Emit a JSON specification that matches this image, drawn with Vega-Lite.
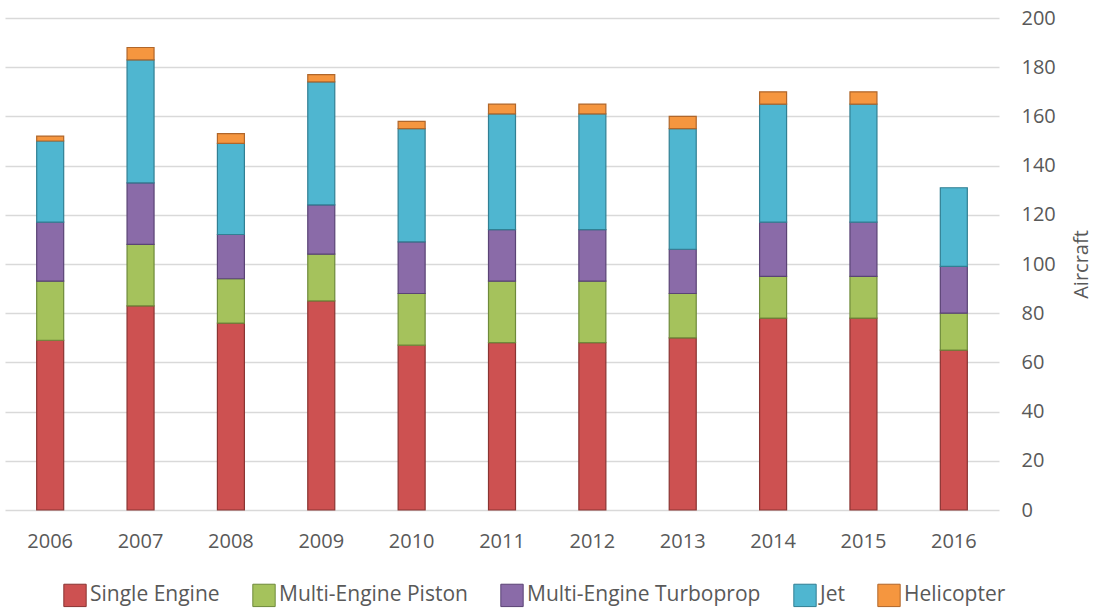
{
  "$schema": "https://vega.github.io/schema/vega-lite/v6.json",
  "width": 994,
  "height": 492,
  "padding": {"left": 5, "top": 8, "right": 0, "bottom": 0},
  "background": "white",
  "config": {
    "view": {"stroke": null},
    "font": "Open Sans",
    "axis": {"labelFont": "Open Sans", "titleFont": "Open Sans", "labelColor": "#595959", "titleColor": "#595959"}
  },
  "data": {
    "values": [
      {"year": "2006", "type": "Single Engine", "k": 1, "v": 69},
      {"year": "2006", "type": "Multi-Engine Piston", "k": 2, "v": 24},
      {"year": "2006", "type": "Multi-Engine Turboprop", "k": 3, "v": 24},
      {"year": "2006", "type": "Jet", "k": 4, "v": 33},
      {"year": "2006", "type": "Helicopter", "k": 5, "v": 2},
      {"year": "2007", "type": "Single Engine", "k": 1, "v": 83},
      {"year": "2007", "type": "Multi-Engine Piston", "k": 2, "v": 25},
      {"year": "2007", "type": "Multi-Engine Turboprop", "k": 3, "v": 25},
      {"year": "2007", "type": "Jet", "k": 4, "v": 50},
      {"year": "2007", "type": "Helicopter", "k": 5, "v": 5},
      {"year": "2008", "type": "Single Engine", "k": 1, "v": 76},
      {"year": "2008", "type": "Multi-Engine Piston", "k": 2, "v": 18},
      {"year": "2008", "type": "Multi-Engine Turboprop", "k": 3, "v": 18},
      {"year": "2008", "type": "Jet", "k": 4, "v": 37},
      {"year": "2008", "type": "Helicopter", "k": 5, "v": 4},
      {"year": "2009", "type": "Single Engine", "k": 1, "v": 85},
      {"year": "2009", "type": "Multi-Engine Piston", "k": 2, "v": 19},
      {"year": "2009", "type": "Multi-Engine Turboprop", "k": 3, "v": 20},
      {"year": "2009", "type": "Jet", "k": 4, "v": 50},
      {"year": "2009", "type": "Helicopter", "k": 5, "v": 3},
      {"year": "2010", "type": "Single Engine", "k": 1, "v": 67},
      {"year": "2010", "type": "Multi-Engine Piston", "k": 2, "v": 21},
      {"year": "2010", "type": "Multi-Engine Turboprop", "k": 3, "v": 21},
      {"year": "2010", "type": "Jet", "k": 4, "v": 46},
      {"year": "2010", "type": "Helicopter", "k": 5, "v": 3},
      {"year": "2011", "type": "Single Engine", "k": 1, "v": 68},
      {"year": "2011", "type": "Multi-Engine Piston", "k": 2, "v": 25},
      {"year": "2011", "type": "Multi-Engine Turboprop", "k": 3, "v": 21},
      {"year": "2011", "type": "Jet", "k": 4, "v": 47},
      {"year": "2011", "type": "Helicopter", "k": 5, "v": 4},
      {"year": "2012", "type": "Single Engine", "k": 1, "v": 68},
      {"year": "2012", "type": "Multi-Engine Piston", "k": 2, "v": 25},
      {"year": "2012", "type": "Multi-Engine Turboprop", "k": 3, "v": 21},
      {"year": "2012", "type": "Jet", "k": 4, "v": 47},
      {"year": "2012", "type": "Helicopter", "k": 5, "v": 4},
      {"year": "2013", "type": "Single Engine", "k": 1, "v": 70},
      {"year": "2013", "type": "Multi-Engine Piston", "k": 2, "v": 18},
      {"year": "2013", "type": "Multi-Engine Turboprop", "k": 3, "v": 18},
      {"year": "2013", "type": "Jet", "k": 4, "v": 49},
      {"year": "2013", "type": "Helicopter", "k": 5, "v": 5},
      {"year": "2014", "type": "Single Engine", "k": 1, "v": 78},
      {"year": "2014", "type": "Multi-Engine Piston", "k": 2, "v": 17},
      {"year": "2014", "type": "Multi-Engine Turboprop", "k": 3, "v": 22},
      {"year": "2014", "type": "Jet", "k": 4, "v": 48},
      {"year": "2014", "type": "Helicopter", "k": 5, "v": 5},
      {"year": "2015", "type": "Single Engine", "k": 1, "v": 78},
      {"year": "2015", "type": "Multi-Engine Piston", "k": 2, "v": 17},
      {"year": "2015", "type": "Multi-Engine Turboprop", "k": 3, "v": 22},
      {"year": "2015", "type": "Jet", "k": 4, "v": 48},
      {"year": "2015", "type": "Helicopter", "k": 5, "v": 5},
      {"year": "2016", "type": "Single Engine", "k": 1, "v": 65},
      {"year": "2016", "type": "Multi-Engine Piston", "k": 2, "v": 15},
      {"year": "2016", "type": "Multi-Engine Turboprop", "k": 3, "v": 19},
      {"year": "2016", "type": "Jet", "k": 4, "v": 32}
    ]
  },
  "mark": {"type": "bar", "size": 27, "strokeWidth": 1.2},
  "encoding": {
    "x": {
      "field": "year", "type": "ordinal",
      "scale": {"paddingInner": 0.7, "paddingOuter": 0.35},
      "axis": {"title": null, "labelAngle": 0, "labelFontSize": 20, "labelPadding": 21, "ticks": false, "domain": false, "grid": false}
    },
    "y": {
      "field": "v", "type": "quantitative", "stack": "zero",
      "scale": {"domain": [0, 200], "nice": false},
      "axis": {
        "orient": "right", "title": "Aircraft", "titleFontSize": 20, "titleFontWeight": "normal",
        "titleAngle": 270, "titleBaseline": "bottom", "titlePadding": 36, "values": [0, 20, 40, 60, 80, 100, 120, 140, 160, 180, 200],
        "labelFontSize": 20, "labelPadding": 22, "labelAlign": "left", "ticks": false, "domain": false,
        "grid": true, "gridColor": "#d9d9d9", "gridWidth": 1.5
      }
    },
    "order": {"field": "k", "type": "quantitative", "sort": "ascending"},
    "color": {
      "field": "type", "type": "nominal",
      "scale": {
        "domain": ["Single Engine", "Multi-Engine Piston", "Multi-Engine Turboprop", "Jet", "Helicopter"],
        "range": ["#cd5151", "#a5c25c", "#8a6ba8", "#4fb6d0", "#f5963f"]
      },
      "legend": {
        "title": null, "orient": "none", "legendX": 58, "legendY": 565, "direction": "horizontal",
        "columns": 5, "columnPadding": 30, "symbolType": "square", "symbolSize": 500,
        "symbolStrokeColor": "#7a7a7a", "symbolStrokeWidth": 1, "symbolOpacity": 1,
        "labelFontSize": 21, "labelColor": "#595959", "labelOffset": 3, "labelLimit": 400
      }
    },
    "stroke": {
      "field": "type", "type": "nominal",
      "scale": {
        "domain": ["Single Engine", "Multi-Engine Piston", "Multi-Engine Turboprop", "Jet", "Helicopter"],
        "range": ["#8a3432", "#6e8a3a", "#5a4375", "#317f93", "#b0662a"]
      },
      "legend": null
    }
  }
}
